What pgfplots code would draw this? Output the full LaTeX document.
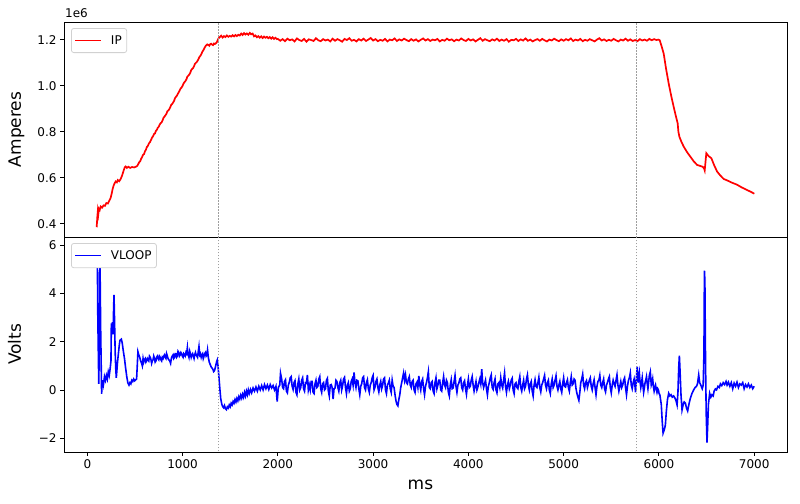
\documentclass[border=0pt]{standalone}
\usepackage{fontspec}
\setmainfont{DejaVu Sans}
\usepackage{pgfplots}
\pgfplotsset{compat=1.18}
\begin{document}
\begin{tikzpicture}
\path[use as bounding box] (0,0) rectangle (800bp,504bp);
\pgfplotsset{
 common/.style={width=723bp,height=215bp,scale only axis,
  xmin=-245,xmax=7345,
  axis line style={line width=0.8bp,black},
  tick style={line width=0.8bp,black},
  major tick length=4bp, tick align=outside,
  xtick pos=bottom, ytick pos=left,
  tick label style={font=\fontsize{12bp}{14bp}\selectfont},
  label style={font=\fontsize{17bp}{20bp}\selectfont},
  legend style={at={(0.0097,0.972)},anchor=north west,draw=black!18,
    rounded corners=2.5bp,fill=white,line width=0.8bp,
    font=\fontsize{12bp}{14bp}\selectfont,inner xsep=3bp,inner ysep=5bp},
  legend cell align=left,
 },
 vmark/.style={black!38, line width=1.2bp, dash pattern=on 1.5bp off 1.5bp, forget plot},
}
% ---------------- top axis: IP ----------------
\begin{axis}[common, name=top, at={(64bp,267bp)}, anchor=south west,
  ymin=0.3425, ymax=1.2775,
  xtick=\empty,
  ytick={0.4,0.6,0.8,1.0,1.2}, yticklabels={0.4,0.6,0.8,1.0,1.2},
  ylabel={Amperes},
  ylabel style={at={(axis description cs:-0.0595,0.5)},anchor=base,rotate=0},
  legend image code/.code={\draw[red,line width=1.4bp] (0bp,0bp) -- (26bp,0bp); \path (33bp,0bp);},
]
\addplot[color=red, line width=1.7bp] coordinates {
(98,0.385) (105,0.43) (110,0.455) (115,0.44) (122,0.465) (130,0.46) (140,0.475) (155,0.47) (170,0.48) (185,0.478)
(200,0.49) (215,0.488) (230,0.50) (244,0.512) (255,0.53) (265,0.55) (275,0.565) (285,0.575) (297,0.584) (310,0.58)
(320,0.59) (335,0.585) (350,0.595) (365,0.61) (380,0.63) (392,0.645) (402,0.649) (415,0.643) (430,0.648) (450,0.643)
(470,0.647) (490,0.645) (510,0.648) (525,0.652) (545,0.668) (555,0.672) (565,0.683) (575,0.69) (585,0.7) (595,0.703) (605,0.715) (615,0.722) (625,0.734) (636,0.739) (647,0.75)
(658,0.755) (670,0.766) (680,0.775) (690,0.781) (700,0.79) (710,0.793) (720,0.804) (730,0.809) (740,0.818) (750,0.822) (760,0.832) (769,0.837) (780,0.841) (790,0.85) (800,0.861) (810,0.866) (820,0.872) (830,0.878) (840,0.889) (850,0.893)
(860,0.898) (870,0.906) (880,0.917) (890,0.921) (900,0.927) (910,0.934) (920,0.946) (930,0.952) (940,0.957) (950,0.965) (965,0.976) (979,0.988) (990,0.993) (1000,1.0) (1010,1.01) (1020,1.016) (1030,1.021) (1040,1.028) (1050,1.04) (1060,1.044)
(1070,1.049) (1080,1.056) (1090,1.068) (1100,1.073) (1110,1.077) (1120,1.085) (1130,1.096) (1140,1.1) (1150,1.104) (1160,1.111) (1175,1.124) (1189,1.132) (1200,1.141) (1210,1.15) (1220,1.156) (1230,1.165) (1245,1.175) (1259,1.18) (1270,1.178) (1280,1.174)
(1290,1.181) (1300,1.183) (1310,1.179) (1320,1.177) (1330,1.184) (1340,1.182) (1350,1.185) (1360,1.19) (1375,1.205) (1390,1.212) (1405,1.218) (1420,1.21) (1435,1.216) (1450,1.212)
(1465,1.219) (1480,1.213) (1495,1.217) (1510,1.214) (1525,1.22) (1540,1.215) (1555,1.221) (1570,1.216) (1585,1.222) (1600,1.219)
(1615,1.227) (1630,1.221) (1645,1.229) (1660,1.223) (1675,1.228) (1690,1.222) (1705,1.23) (1720,1.224) (1735,1.227) (1750,1.215)
(1765,1.219) (1780,1.211) (1795,1.216) (1810,1.209) (1825,1.215) (1840,1.208) (1855,1.214) (1870,1.209) (1885,1.213) (1900,1.207)
(1915,1.212) (1930,1.205) (1945,1.211) (1960,1.204) (1975,1.209) (1990,1.203)
(2000,1.204) (2025,1.196) (2050,1.203) (2075,1.194) (2100,1.205) (2125,1.198) (2150,1.202) (2175,1.193) (2200,1.206) (2225,1.199)
(2250,1.195) (2275,1.204) (2300,1.192) (2325,1.202) (2350,1.199) (2375,1.195) (2400,1.207) (2425,1.198) (2450,1.194) (2475,1.203)
(2500,1.197) (2525,1.201) (2550,1.193) (2575,1.205) (2600,1.196) (2625,1.203) (2650,1.198) (2675,1.192) (2700,1.204) (2725,1.199)
(2750,1.207) (2775,1.196) (2800,1.2) (2825,1.193) (2850,1.203) (2875,1.197) (2900,1.205) (2925,1.195) (2950,1.201) (2975,1.208)
(3000,1.197) (3025,1.203) (3050,1.194) (3075,1.2) (3100,1.196) (3125,1.204) (3150,1.193) (3175,1.201) (3200,1.198) (3225,1.206)
(3250,1.195) (3275,1.202) (3300,1.197) (3325,1.205) (3350,1.199) (3375,1.194) (3400,1.203) (3425,1.196) (3450,1.202) (3475,1.193)
(3500,1.2) (3525,1.206) (3550,1.197) (3575,1.203) (3600,1.195) (3625,1.201) (3650,1.198) (3675,1.204) (3700,1.193) (3725,1.2)
(3750,1.196) (3775,1.205) (3800,1.198) (3825,1.202) (3850,1.194) (3875,1.201) (3900,1.197) (3925,1.206) (3950,1.199) (3975,1.195)
(4000,1.204) (4025,1.197) (4050,1.202) (4075,1.193) (4100,1.2) (4125,1.207) (4150,1.196) (4175,1.203) (4200,1.198) (4225,1.194)
(4250,1.202) (4275,1.197) (4300,1.205) (4325,1.195) (4350,1.201) (4375,1.196) (4400,1.203) (4425,1.192) (4450,1.2) (4475,1.198)
(4500,1.204) (4525,1.195) (4550,1.202) (4575,1.197) (4600,1.206) (4625,1.196) (4650,1.201) (4675,1.193) (4700,1.199) (4725,1.203)
(4750,1.196) (4775,1.204) (4800,1.198) (4825,1.193) (4850,1.201) (4875,1.197) (4900,1.205) (4925,1.199) (4950,1.194) (4975,1.202)
(5000,1.196) (5025,1.203) (5050,1.198) (5075,1.206) (5100,1.195) (5125,1.201) (5150,1.197) (5175,1.204) (5200,1.194) (5225,1.2)
(5250,1.196) (5275,1.203) (5300,1.198) (5325,1.193) (5350,1.201) (5375,1.207) (5400,1.197) (5425,1.202) (5450,1.195) (5475,1.2)
(5500,1.196) (5525,1.204) (5550,1.198) (5575,1.193) (5600,1.201) (5625,1.197) (5650,1.205) (5675,1.196) (5700,1.202) (5725,1.195)
(5750,1.199) (5775,1.194) (5800,1.203) (5825,1.197) (5850,1.201) (5875,1.196) (5900,1.204) (5925,1.198) (5950,1.203) (5975,1.199)
(5995,1.201) (6009,1.198) (6030,1.17) (6051,1.139) (6075,1.075) (6103,1.01) (6130,0.955) (6155,0.909) (6180,0.865) (6197,0.837)
(6205,0.80) (6215,0.779) (6235,0.758) (6260,0.736) (6295,0.712) (6330,0.692) (6365,0.672) (6401,0.656) (6430,0.652) (6460,0.648)
(6475,0.64) (6481,0.632) (6490,0.672) (6498,0.707) (6520,0.695) (6551,0.685) (6580,0.655) (6611,0.627) (6645,0.61) (6680,0.595)
(6720,0.588) (6760,0.58) (6820,0.57) (6870,0.558) (6920,0.548) (6960,0.54) (7002,0.531)
};
\addlegendentry{IP}
\addplot[vmark] coordinates {(1380,0) (1380,2)};
\addplot[vmark] coordinates {(5765,0) (5765,2)};
\end{axis}
\node[anchor=base west, font=\fontsize{12bp}{14bp}\selectfont, inner sep=0pt] at ([xshift=1bp,yshift=4.5bp]top.north west) {1e6};
% ---------------- bottom axis: VLOOP ----------------
\begin{axis}[common, at={(64bp,52bp)}, anchor=south west,
  ymin=-2.57, ymax=6.33,
  xtick={0,1000,2000,3000,4000,5000,6000,7000},
  xticklabels={0,1000,2000,3000,4000,5000,6000,7000},
  ytick={-2,0,2,4,6}, yticklabels={−2,0,2,4,6},
  ylabel={Volts},
  ylabel style={at={(axis description cs:-0.0595,0.5)},anchor=base,rotate=0},
  xlabel={ms},
  xlabel style={at={(axis description cs:0.493,0)},anchor=base,yshift=-38bp},
  legend image code/.code={\draw[blue,line width=1.4bp] (0bp,0bp) -- (26bp,0bp); \path (33bp,0bp);},
]
\addplot[color=blue, line width=1.6bp] coordinates {
(100,5.6) (104,5.93) (110,3.0) (120,0.25) (126,2.0) (132,5.68) (140,2.5) (150,-0.16) (155,0.3) (160,0.1)
(165,0.4) (170,0.25) (180,0.55) (190,0.4) (200,0.6) (210,0.45) (220,0.75) (230,0.6) (240,0.9) (248,1.2)
(252,2.75) (258,2.6) (264,2.8) (270,2.3) (276,3.4) (280,3.93) (286,2.8) (292,1.6) (298,0.9) (304,0.5)
(310,0.8) (318,1.2) (326,1.5) (334,1.8) (342,2.05) (357,2.1) (366,1.95) (378,1.6) (390,1.3) (402,0.9)
(414,0.55) (425,0.3) (437,0.2) (447,0.3) (457,0.25) (467,0.4) (477,0.35) (487,0.45) (497,0.38) (507,0.42)
(517,0.45) (524,1.0) (531,1.58) (540,1.45) (550,1.35) (560,1.2) (570,1.1) (577,1.0) (585,1.3) (592,1.15)
(600,1.25) (608,1.3) (615,1.15) (622,1.2) (630,1.3) (637,1.25) (645,1.2) (652,1.4) (660,1.35) (668,1.25) (675,1.1) (682,1.2) (690,1.25) (697,1.4) (705,1.3) (712,1.15) (720,1.2) (727,1.35) (735,1.4) (742,1.3)
(750,1.25) (757,1.4) (765,1.35) (772,1.25) (780,1.2) (787,1.35) (795,1.3) (802,1.4) (810,1.45) (817,1.35) (825,1.3) (832,1.5) (840,1.4) (847,1.3) (855,1.25) (865,1.2) (874,1.1) (880,1.25) (885,1.35) (892,1.4)
(900,1.45) (907,1.3) (915,1.35) (922,1.5) (930,1.5) (937,1.35) (945,1.4) (952,1.6) (960,1.55) (967,1.4) (975,1.45) (982,1.55) (990,1.5) (997,1.4) (1005,1.35) (1012,1.5) (1020,1.45) (1027,1.4) (1035,1.55) (1042,1.5)
(1050,1.75) (1055,1.5) (1060,1.45) (1067,1.35) (1075,1.6) (1082,1.5) (1090,1.35) (1097,1.45) (1105,1.5) (1112,1.4) (1120,1.3) (1127,1.45) (1135,1.55) (1142,1.45) (1150,1.4) (1157,1.35) (1165,1.6) (1172,1.8) (1180,1.45) (1187,1.5)
(1195,1.35) (1202,1.45) (1210,1.5) (1217,1.3) (1225,1.4) (1232,1.5) (1240,1.55) (1247,1.4) (1255,1.45) (1262,1.65) (1270,1.35) (1280,1.15) (1290,1.05)
(1300,0.95) (1310,0.9) (1318,0.85) (1326,0.76) (1335,0.8) (1345,0.95) (1356,1.15) (1364,1.24) (1372,1.0) (1380,0.6)
(1390,0.1) (1400,-0.35) (1412,-0.6) (1422,-0.7) (1431,-0.74) (1440,-0.65) (1450,-0.78) (1460,-0.82) (1470,-0.7) (1480,-0.75)
(1490,-0.62) (1500,-0.7) (1510,-0.55) (1520,-0.62) (1530,-0.48) (1540,-0.55) (1550,-0.4) (1560,-0.5) (1570,-0.35) (1580,-0.45)
(1590,-0.28) (1600,-0.38) (1610,-0.22) (1620,-0.34) (1630,-0.18) (1640,-0.3) (1650,-0.1) (1660,-0.25) (1670,-0.05) (1680,-0.2)
(1690,0.0) (1700,-0.15) (1713,0.02) (1725,-0.12) (1740,0.08) (1755,-0.05) (1770,0.12) (1785,-0.05) (1800,0.15) (1815,0.0)
(1830,0.18) (1845,0.0) (1860,0.22) (1875,0.05) (1890,0.2) (1905,0.02) (1920,0.22) (1935,0.08) (1950,0.18) (1965,0.0)
(1980,0.15) (1993,-0.48) (2005,0.1) (2020,0.2) (2028,0.69)
(2040,0.45) (2050,0.1) (2060,0.05) (2070,0.35) (2080,0.42) (2090,-0.05) (2100,-0.12) (2110,0.2) (2120,0.31) (2130,0.5)
(2140,0.55) (2150,0.15) (2160,0.02) (2170,0.3) (2180,0.38) (2190,-0.1) (2200,-0.2) (2210,0.25) (2220,0.45) (2230,0.0)
(2240,0.1) (2250,0.4) (2260,0.5) (2270,0.05) (2280,-0.05) (2290,0.3) (2300,0.28) (2310,0.62) (2320,0.0) (2330,0.2)
(2340,0.0) (2350,0.35) (2360,0.35) (2370,-0.1) (2380,-0.15) (2390,0.25) (2400,0.4) (2410,0.1) (2420,0.15) (2430,0.45)
(2440,0.55) (2450,0.05) (2460,-0.1) (2470,0.25) (2480,0.3) (2490,0.0) (2500,0.05) (2510,0.4) (2520,0.48) (2530,-0.05)
(2540,-0.25) (2550,0.2) (2560,0.22) (2570,0.1) (2580,-0.38) (2590,0.05) (2600,0.08) (2610,0.4) (2620,0.35) (2630,0.1)
(2640,-0.05) (2650,0.3) (2660,0.4) (2670,0.0) (2680,0.18) (2690,0.45) (2700,0.52) (2710,0.1) (2720,-0.15) (2730,0.2)
(2740,0.3) (2750,-0.05) (2760,0.05) (2770,0.35) (2780,0.45) (2790,0.2) (2800,0.72) (2810,0.3) (2820,0.1) (2830,0.4)
(2840,0.38) (2850,0.05) (2860,-0.2) (2870,0.15) (2880,0.25) (2890,0.5) (2900,0.55) (2910,0.1) (2920,0.0) (2930,0.3)
(2940,0.42) (2950,0.05) (2960,-0.1) (2970,0.2) (2980,0.3) (2990,0.5) (3000,0.6) (3010,0.0) (3020,0.12) (3030,0.35)
(3040,0.45) (3050,0.1) (3060,-0.08) (3070,0.2) (3080,0.35) (3090,0.05) (3100,0.2) (3110,0.45) (3120,0.5) (3130,0.0)
(3140,-0.15) (3150,0.2) (3160,0.28) (3170,0.4) (3180,0.05) (3190,-0.1) (3200,0.4) (3210,0.15) (3220,0.1) (3230,-0.2)
(3240,-0.45) (3250,-0.6) (3260,-0.66) (3270,-0.4) (3280,-0.2) (3290,0.1) (3300,0.3) (3310,0.5) (3320,0.7) (3330,0.4)
(3340,0.62) (3350,0.3) (3360,0.25) (3370,0.45) (3380,0.55) (3390,0.2) (3400,0.1) (3410,0.35) (3420,0.4) (3430,0.0)
(3440,-0.1) (3450,0.25) (3460,0.32) (3470,0.1) (3480,0.58) (3490,0.2) (3500,0.0) (3510,0.35) (3520,0.45) (3530,0.05)
(3540,-0.2) (3550,0.15) (3560,0.3) (3570,0.5) (3580,0.75) (3590,0.1) (3600,0.05) (3610,0.3) (3620,0.35) (3630,-0.05)
(3640,-0.15) (3650,0.3) (3660,0.5) (3670,0.05) (3680,0.2) (3690,0.4) (3700,0.4) (3710,0.0) (3720,-0.05) (3730,0.3)
(3740,0.55) (3750,0.2) (3760,0.1) (3770,0.4) (3780,0.3) (3790,-0.1) (3800,-0.25) (3810,0.2) (3820,0.42) (3830,0.05)
(3840,0.08) (3850,0.35) (3860,0.6) (3870,0.15) (3880,-0.1) (3890,0.2) (3900,0.28) (3910,0.45) (3920,0.5) (3930,0.1)
(3940,0.0) (3950,0.3) (3960,0.38) (3970,0.05) (3980,-0.18) (3990,0.2) (4000,0.45) (4010,0.1) (4020,0.15) (4030,0.4)
(4040,0.55) (4050,0.2) (4060,-0.05) (4070,0.15) (4080,0.35) (4090,0.0) (4100,0.12) (4110,0.3) (4120,0.45) (4130,0.25)
(4140,0.86) (4150,0.3) (4160,0.1) (4170,0.25) (4180,0.4) (4190,0.05) (4200,-0.2) (4210,0.15) (4220,0.3) (4230,0.5)
(4240,0.62) (4250,0.1) (4260,0.02) (4270,0.3) (4280,0.45) (4290,0.0) (4300,-0.12) (4310,0.25) (4320,0.3) (4330,0.1)
(4340,0.5) (4350,0.2) (4360,0.08) (4370,0.4) (4380,0.7) (4390,0.15) (4400,-0.1) (4410,0.2) (4420,0.35) (4430,0.05)
(4440,0.2) (4450,0.4) (4460,0.48) (4470,0.0) (4480,-0.15) (4490,0.25) (4500,0.3) (4510,0.1) (4520,0.05) (4530,0.35)
(4540,0.55) (4550,0.1) (4560,-0.05) (4570,0.2) (4580,0.4) (4590,0.05) (4600,0.15) (4610,0.45) (4620,0.62) (4630,0.2)
(4640,0.0) (4650,0.25) (4660,0.35) (4670,-0.05) (4680,-0.25) (4690,0.2) (4700,0.42) (4710,0.15) (4720,0.1) (4730,0.3)
(4740,0.52) (4750,0.1) (4760,-0.08) (4770,0.2) (4780,0.3) (4790,0.45) (4800,0.6) (4810,0.2) (4820,0.05) (4830,0.3)
(4840,0.4) (4850,0.0) (4860,-0.15) (4870,0.25) (4880,0.45) (4890,0.1) (4900,0.2) (4910,0.4) (4920,0.58) (4930,0.15)
(4940,0.0) (4950,0.2) (4960,0.35) (4970,0.05) (4980,-0.1) (4990,0.25) (5000,0.5) (5010,0.15) (5020,0.12) (5030,0.3)
(5040,0.42) (5050,0.1) (5060,-0.05) (5070,0.3) (5080,0.55) (5090,0.2) (5100,0.25) (5110,0.45) (5120,0.4) (5130,0.05)
(5140,-0.15) (5150,-0.3) (5160,-0.43) (5170,-0.1) (5180,0.3) (5190,0.45) (5200,0.65) (5210,0.2) (5220,0.05) (5230,0.3)
(5240,0.38) (5250,0.1) (5260,0.25) (5270,0.4) (5280,0.5) (5290,0.15) (5300,0.0) (5310,0.25) (5320,0.42) (5330,0.1)
(5340,-0.2) (5350,0.15) (5360,0.35) (5370,0.4) (5380,0.6) (5390,0.2) (5400,0.1) (5410,0.3) (5420,0.45) (5430,0.05)
(5440,-0.08) (5450,0.2) (5460,0.3) (5470,0.45) (5480,0.55) (5490,0.1) (5500,-0.12) (5510,0.2) (5520,0.4) (5530,0.25)
(5540,0.15) (5550,0.4) (5560,0.62) (5570,0.2) (5580,-0.05) (5590,0.15) (5600,0.35) (5610,0.1) (5620,0.2) (5630,0.4)
(5640,0.5) (5650,0.1) (5660,-0.2) (5670,0.15) (5680,0.38) (5690,0.5) (5700,0.7) (5710,0.2) (5720,0.05) (5730,0.3)
(5740,0.45) (5748,0.2) (5755,-0.1) (5765,0.55) (5772,0.96) (5782,0.3) (5788,0.5) (5795,0.7) (5802,0.35) (5810,0.1)
(5818,0.3) (5825,0.5) (5832,0.2) (5840,-0.1) (5848,0.1) (5855,0.3) (5862,0.4) (5870,0.55) (5878,0.25) (5885,0.05)
(5892,0.3) (5900,0.6) (5910,0.75) (5920,0.2) (5928,0.3) (5935,0.45) (5942,0.15) (5950,-0.05) (5958,0.1) (5965,0.2)
(5972,0.05) (5980,-0.1) (5988,0.05) (5995,0.0) (6002,-0.15) (6010,-0.2) (6025,-0.6) (6035,-1.3) (6044,-1.79)
(6052,-1.7) (6060,-1.6) (6068,-1.45) (6078,-0.9) (6090,-0.4) (6103,-0.14) (6115,-0.25) (6128,-0.2) (6140,-0.3) (6155,-0.25)
(6170,-0.35) (6180,-0.45) (6191,-0.62) (6200,-0.1) (6208,0.9) (6215,1.42) (6222,0.8) (6232,-0.2) (6243,-0.83) (6255,-0.6)
(6265,-0.5) (6278,-0.55) (6290,-0.75) (6302,-0.87) (6315,-0.6) (6330,-0.35) (6348,-0.14) (6365,0.0) (6380,0.1) (6395,0.15)
(6405,0.25) (6418,0.62) (6428,0.3) (6440,0.2) (6455,0.05) (6465,0.2) (6473,1.5) (6478,4.94) (6483,4.5) (6490,1.0)
(6497,-1.0) (6505,-2.18) (6512,-1.5) (6520,-0.6) (6533,-0.14) (6545,-0.3) (6557,-0.2) (6570,-0.25) (6580,-0.05) (6593,0.04)
(6605,0.0) (6620,0.15) (6635,0.1) (6646,0.25) (6660,0.18) (6675,0.3) (6690,0.22) (6705,0.35) (6716,0.2) (6730,0.32)
(6745,0.15) (6760,0.3) (6775,0.05) (6790,0.28) (6805,0.15) (6820,0.32) (6835,0.1) (6850,0.25) (6865,0.2) (6880,0.3)
(6895,0.05) (6910,0.22) (6925,0.12) (6940,0.25) (6955,0.1) (6970,0.2) (6985,0.05) (7000,0.15)
};
\addlegendentry{VLOOP}
\addplot[vmark] coordinates {(1380,-10) (1380,10)};
\addplot[vmark] coordinates {(5765,-10) (5765,10)};
\end{axis}
\end{tikzpicture}
\end{document}
